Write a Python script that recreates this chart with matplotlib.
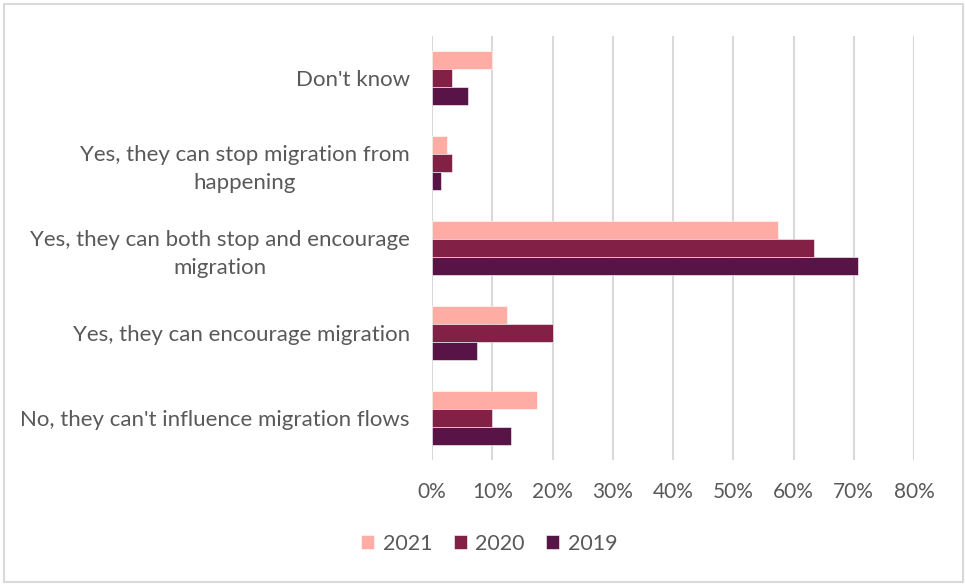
import numpy as np
import matplotlib.pyplot as plt
from matplotlib.patches import Rectangle
from matplotlib.ticker import PercentFormatter

plt.rcParams['font.family'] = ['Lato', 'DejaVu Sans']

categories = [
    "Don't know",
    "Yes, they can stop migration from\nhappening",
    "Yes, they can both stop and encourage\nmigration",
    "Yes, they can encourage migration",
    "No, they can't influence migration flows",
]
years = ['2021', '2020', '2019']
values = {
    '2021': [10.0, 2.5, 57.4, 12.5, 17.5],
    '2020': [3.3, 3.3, 63.4, 20.0, 9.9],
    '2019': [6.0, 1.5, 70.7, 7.4, 13.1],
}
colors = {'2021': '#FFADA4', '2020': '#832045', '2019': '#581446'}
x_ticks = [0, 10, 20, 30, 40, 50, 60, 70, 80]

text_color = '#595959'
grid_color = '#D9D9D9'
fs = 15.5

fig = plt.figure(figsize=(9.65, 5.86), dpi=100)
ax = fig.add_axes([0.4477, 0.215, 0.4995, 0.7235])

y = np.arange(len(categories))
h = 0.212
for k, yr in enumerate(years):
    ax.barh(y + (k - 1) * h, values[yr], height=h, color=colors[yr],
            edgecolor='white', linewidth=0.4, label=yr, zorder=3)

ax.set_ylim(len(categories) - 0.5, -0.5)
ax.set_xlim(0, 80)
ax.set_xticks(x_ticks)
ax.xaxis.set_major_formatter(PercentFormatter(decimals=0))
ax.set_yticks(y)
ax.set_yticklabels(categories, ha='right', multialignment='center', linespacing=1.5)

ax.grid(axis='x', color=grid_color, linewidth=1.5, zorder=0)
for s in ax.spines.values():
    s.set_visible(False)
ax.tick_params(axis='both', length=0, colors=text_color, labelsize=fs)
ax.tick_params(axis='y', labelsize=16, pad=16)
ax.tick_params(axis='x', labelsize=15, pad=16)

leg = fig.legend(loc='center', bbox_to_anchor=(0.507, 0.072), ncol=3, frameon=False,
                 fontsize=fs, handlelength=0.6, handleheight=0.6,
                 handletextpad=0.4, columnspacing=1.0)
for t in leg.get_texts():
    t.set_color(text_color)

fig.patches.append(Rectangle((0.004, 0.006), 0.994, 0.988, transform=fig.transFigure,
                             fill=False, edgecolor=grid_color, linewidth=1.5))

fig.savefig('out.png', dpi=100)
